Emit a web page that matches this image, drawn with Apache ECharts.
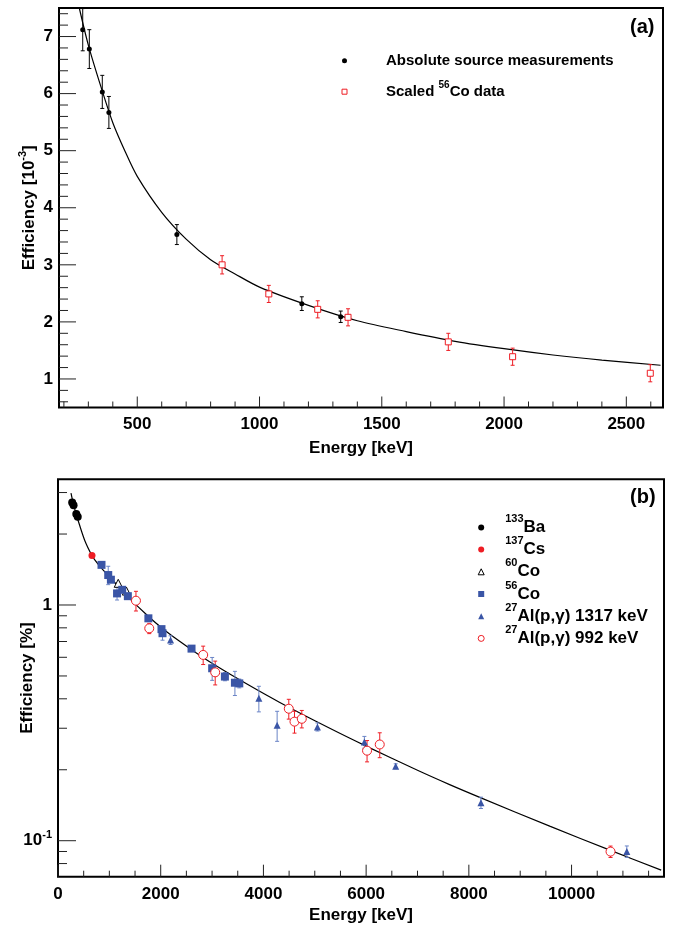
<!DOCTYPE html>
<html>
<head>
<meta charset="utf-8">
<title>Detector efficiency</title>
<script src="https://cdn.jsdelivr.net/npm/echarts@6/dist/echarts.min.js"></script>
<style>
  html, body { margin: 0; padding: 0; background: #fff; }
  #chart { width: 673px; height: 926px; }
</style>
</head>
<body>
<div id="chart"></div>
<script>
// ---- panel (a): efficiency [1e-3] vs energy [keV] ----
const absEnergy = [277, 304, 357, 384, 662, 1173, 1332];
const absEff    = [7.12, 6.78, 6.03, 5.67, 3.53, 2.32, 2.09];
const absErr    = [0.37, 0.34, 0.29, 0.28, 0.175, 0.12, 0.10];

const scaledEnergy = [847, 1038, 1238, 1362, 1772, 2035, 2598];
const scaledEff    = [3.00, 2.49, 2.22, 2.08, 1.65, 1.39, 1.10];
const scaledErr    = [0.16, 0.15, 0.15, 0.15, 0.15, 0.15, 0.15];

const fitAEnergy = [263, 300, 350, 400, 450, 500, 600, 700, 800, 900, 1000, 1200, 1400, 1600, 1800, 2000, 2200, 2400, 2640];
const fitAEff    = [7.50, 6.85, 6.14, 5.49, 4.99, 4.55, 3.92, 3.45, 3.09, 2.84, 2.61, 2.29, 2.02, 1.83, 1.66, 1.53, 1.42, 1.33, 1.24];

// ---- panel (b): efficiency [%] vs energy [keV] ----
const ba133Energy = [276, 303, 356, 384];
const ba133Eff    = [2.72, 2.65, 2.43, 2.37];

const cs137Energy = [662];
const cs137Eff    = [1.62];

const co60Energy = [1173, 1332];
const co60Eff    = [1.236, 1.146];

const co56Energy = [847, 978, 1030, 1150, 1250, 1360, 1760, 2015, 2035, 2600, 3002, 3250, 3445, 3530];
const co56Eff    = [1.48, 1.34, 1.28, 1.12, 1.16, 1.09, 0.878, 0.79, 0.759, 0.653, 0.539, 0.497, 0.468, 0.465];
const co56Err    = [0.02, 0.12, 0.03, 0.07, 0.02, 0.02, 0.015, 0.02, 0.05, 0.015, 0.06, 0.02, 0.055, 0.02];

const al1317Energy = [2192, 3911, 4267, 5052, 5966, 6576, 8236, 11076];
const al1317Eff    = [0.710, 0.402, 0.309, 0.304, 0.262, 0.207, 0.145, 0.090];
const al1317Err    = [0.03, 0.05, 0.045, 0.012, 0.015, 0.005, 0.008, 0.005];

const al992Energy = [1518, 1777, 2827, 3061, 4494, 4605, 4747, 6018, 6265, 10759];
const al992Eff    = [1.043, 0.796, 0.614, 0.518, 0.363, 0.320, 0.329, 0.241, 0.256, 0.0899];
const al992Err    = [0.10, 0.04, 0.055, 0.06, 0.035, 0.034, 0.028, 0.025, 0.031, 0.005];

const fitBEnergy = [253, 300, 350, 415, 525, 655, 720, 850, 1174, 1368, 1757, 2017, 2341, 2665, 3022, 3671, 4319, 5292, 6000, 7000, 7626, 8236, 9586, 10759, 11745];
const fitBEff    = [2.98, 2.68, 2.45, 2.20, 1.87, 1.63, 1.55, 1.43, 1.20, 1.08, 0.896, 0.801, 0.708, 0.632, 0.562, 0.463, 0.386, 0.300, 0.252, 0.199, 0.173, 0.152, 0.115, 0.091, 0.075];

// tick positions
const ticksAX = [500, 1000, 1500, 2000, 2500];
const ticksAY = [1, 2, 3, 4, 5, 6, 7];
const ticksBX = [0, 2000, 4000, 6000, 8000, 10000];
const ticksBY = [0.1, 1];

const FONT = '"Liberation Sans", Arial, Helvetica, sans-serif';
const RED = '#ee1d24';
const BLUE = '#3a55a6';
const BLUE_BAR = '#6a84c6';

const zip = (xs, ys) => xs.map((x, i) => [x, ys[i]]);

// ROOT style: ticks drawn inwards from the bottom and left frame lines
function tickSeries(gi, dir, major, minor, majorLen, minorLen, other) {
  const list = major.map(v => [v, majorLen]).concat(minor.map(v => [v, minorLen]));
  return {
    type: 'custom', xAxisIndex: gi, yAxisIndex: gi, silent: true, z: 6, clip: false,
    data: list.map(t => dir === 'x' ? [t[0], other] : [other, t[0]]),
    renderItem(params, api) {
      const cs = params.coordSys;
      const len = list[params.dataIndex][1];
      const p = api.coord([api.value(0), api.value(1)]);
      const bottom = cs.y + cs.height;
      const shape = dir === 'x'
        ? { x1: p[0], y1: bottom, x2: p[0], y2: bottom - len }
        : { x1: cs.x, y1: p[1], x2: cs.x + len, y2: p[1] };
      return { type: 'line', shape, style: { stroke: '#222', lineWidth: 1 } };
    }
  };
}

function errorBars(gi, xs, ys, es, color) {
  return {
    type: 'custom', xAxisIndex: gi, yAxisIndex: gi, silent: true, z: 3, clip: true,
    data: xs.map((x, i) => [x, ys[i] - es[i], ys[i] + es[i]]),
    encode: { x: 0, y: [1, 2] },
    renderItem(params, api) {
      const lo = api.coord([api.value(0), api.value(1)]);
      const hi = api.coord([api.value(0), api.value(2)]);
      const c = 2;
      const style = { stroke: color, lineWidth: 1 };
      return {
        type: 'group',
        children: [
          { type: 'line', shape: { x1: lo[0], y1: lo[1], x2: hi[0], y2: hi[1] }, style },
          { type: 'line', shape: { x1: lo[0] - c, y1: lo[1], x2: lo[0] + c, y2: lo[1] }, style },
          { type: 'line', shape: { x1: hi[0] - c, y1: hi[1], x2: hi[0] + c, y2: hi[1] }, style }
        ]
      };
    }
  };
}

function points(gi, name, xs, ys, symbol, size, fill, stroke) {
  return {
    type: 'scatter', name, xAxisIndex: gi, yAxisIndex: gi, z: 4,
    symbol, symbolSize: size, data: zip(xs, ys),
    itemStyle: { color: fill, borderColor: stroke || fill, borderWidth: stroke ? 1 : 0, opacity: 1 }
  };
}

// "133Ba" -> superscript mass number
function supText(name) {
  return name.replace(/(\d+)(?=[A-Z])/g, '{s|$1}');
}

// thin outline for open legend markers
const thin = name => ({ name, itemStyle: { borderWidth: 1 } });

const axisLabelBase = { color: '#000', fontFamily: FONT, fontWeight: 'bold', fontSize: 17 };
const nameBase = { color: '#000', fontFamily: FONT, fontWeight: 'bold', fontSize: 17 };

function pow10Label(v) {
  const e = Math.log10(v);
  if (Math.abs(e - Math.round(e)) > 1e-6) return '';
  const k = Math.round(e);
  if (k === 0) return '1';
  if (k === 1) return '10';
  return '10{s|' + k + '}';
}

const gridBase = { show: true, borderColor: '#000', borderWidth: 2, backgroundColor: 'transparent', containLabel: false, outerBoundsMode: 'none' };

const option = {
  animation: false,
  backgroundColor: '#fff',
  grid: [
    Object.assign({ left: 59, top: 8, width: 604, height: 399.5 }, gridBase),
    Object.assign({ left: 58, top: 479.3, width: 606, height: 397.4 }, gridBase)
  ],
  xAxis: [
    {
      gridIndex: 0, type: 'value', min: 180, max: 2650, splitNumber: 5,
      axisLine: { show: false }, axisTick: { show: false }, splitLine: { show: false },
      axisLabel: Object.assign({ margin: 8, formatter: v => (v % 500 === 0 ? String(v) : '') }, axisLabelBase),
      name: 'Energy [keV]', nameLocation: 'middle', nameGap: 32, nameMoveOverlap: false, nameTextStyle: nameBase
    },
    {
      gridIndex: 1, type: 'value', min: 0, max: 11800, interval: 2000,
      axisLine: { show: false }, axisTick: { show: false }, splitLine: { show: false },
      axisLabel: Object.assign({ margin: 9, formatter: v => (v % 2000 === 0 ? String(v) : '') }, axisLabelBase),
      name: 'Energy [keV]', nameLocation: 'middle', nameGap: 30, nameMoveOverlap: false, nameTextStyle: nameBase
    }
  ],
  yAxis: [
    {
      gridIndex: 0, type: 'value', min: 0.5, max: 7.5, splitNumber: 7,
      axisLine: { show: false }, axisTick: { show: false }, splitLine: { show: false },
      axisLabel: Object.assign({ margin: 6, formatter: v => (Number.isInteger(v) ? String(v) : '') }, axisLabelBase),
      name: 'Efficiency [10{s|-3}]', nameLocation: 'middle', nameRotate: 90, nameGap: 20, nameMoveOverlap: false,
      nameTextStyle: Object.assign({ lineHeight: 20, rich: { s: { fontSize: 11, lineHeight: 20, fontWeight: 'bold', fontFamily: FONT, color: '#000', padding: [0, 0, 12, 0] } } }, nameBase)
    },
    {
      gridIndex: 1, type: 'log', logBase: 10, min: 0.07036, max: 3.414,
      axisLine: { show: false }, axisTick: { show: false }, splitLine: { show: false },
      axisLabel: Object.assign({
        margin: 6, formatter: pow10Label, lineHeight: 20,
        rich: { s: { fontSize: 11, lineHeight: 20, fontWeight: 'bold', fontFamily: FONT, color: '#000', padding: [0, 0, 12, 0] } }
      }, axisLabelBase),
      name: 'Efficiency [%]', nameLocation: 'middle', nameRotate: 90, nameGap: 22, nameMoveOverlap: false, nameTextStyle: nameBase
    }
  ],
  legend: [
    {
      orient: 'vertical', left: 341.5, top: 50.7, padding: 0, itemWidth: 5, itemHeight: 5, itemGap: 10,
      selectedMode: false,
      data: ['Absolute source measurements', thin('Scaled 56Co data')],
      formatter: supText,
      textStyle: {
        color: '#000', fontFamily: FONT, fontWeight: 'bold', fontSize: 15, lineHeight: 20, padding: [0, 0, 0, 34],
        rich: { s: { fontSize: 10, lineHeight: 20, fontWeight: 'bold', fontFamily: FONT, color: '#000', padding: [0, 0, 12, 0] } }
      }
    },
    {
      orient: 'vertical', left: 477.7, top: 513.4, padding: 0, itemWidth: 6, itemHeight: 6, itemGap: -5.8,
      selectedMode: false,
      data: ['133Ba', '137Cs', thin('60Co'), '56Co', '27Al(p,\u03b3) 1317 keV', thin('27Al(p,\u03b3) 992 keV')],
      formatter: supText,
      textStyle: {
        color: '#000', fontFamily: FONT, fontWeight: 'bold', fontSize: 17, lineHeight: 22, padding: [0, 0, 0, 16],
        rich: { s: { fontSize: 11, lineHeight: 22, fontWeight: 'bold', fontFamily: FONT, color: '#000', padding: [0, 0, 17, 0] } }
      }
    }
  ],
  graphic: [
    { type: 'text', left: 630, top: 17, style: { text: '(a)', fill: '#000', font: 'bold 20px ' + FONT } },
    { type: 'text', left: 630, top: 487.5, style: { text: '(b)', fill: '#000', font: 'bold 20px ' + FONT } }
  ],
  series: [
    // panel (a)
    { type: 'line', name: 'fitA', xAxisIndex: 0, yAxisIndex: 0, data: zip(fitAEnergy, fitAEff), smooth: 0.3,
      symbol: 'none', lineStyle: { color: '#000', width: 1.2 }, z: 2, silent: true },
    errorBars(0, absEnergy, absEff, absErr, '#000'),
    errorBars(0, scaledEnergy, scaledEff, scaledErr, RED),
    points(0, 'Absolute source measurements', absEnergy, absEff, 'circle', 5, '#000'),
    points(0, 'Scaled 56Co data', scaledEnergy, scaledEff, 'rect', 6, '#fff', RED),
    tickSeries(0, 'x', ticksAX, [200,300,400,600,700,800,900,1100,1200,1300,1400,1600,1700,1800,1900,2100,2200,2300,2400,2600], 11, 6, 1),
    tickSeries(0, 'y', ticksAY, [0.6,0.8,1.2,1.4,1.6,1.8,2.2,2.4,2.6,2.8,3.2,3.4,3.6,3.8,4.2,4.4,4.6,4.8,5.2,5.4,5.6,5.8,6.2,6.4,6.6,6.8,7.2,7.4], 17, 9, 1000),

    // panel (b)
    { type: 'line', name: 'fitB', xAxisIndex: 1, yAxisIndex: 1, data: zip(fitBEnergy, fitBEff), smooth: 0.3,
      symbol: 'none', lineStyle: { color: '#000', width: 1.2 }, z: 2, silent: true },
    errorBars(1, co56Energy, co56Eff, co56Err, BLUE_BAR),
    errorBars(1, al1317Energy, al1317Eff, al1317Err, BLUE_BAR),
    errorBars(1, al992Energy, al992Eff, al992Err, RED),
    points(1, '133Ba', ba133Energy, ba133Eff, 'circle', 8, '#000'),
    points(1, '137Cs', cs137Energy, cs137Eff, 'circle', 7, RED),
    points(1, '60Co', co60Energy, co60Eff, 'triangle', 8, '#fff', '#000'),
    points(1, '56Co', co56Energy, co56Eff, 'rect', 8, BLUE),
    points(1, '27Al(p,\u03b3) 1317 keV', al1317Energy, al1317Eff, 'triangle', 7, BLUE),
    points(1, '27Al(p,\u03b3) 992 keV', al992Energy, al992Eff, 'circle', 9, '#fff', RED),
    tickSeries(1, 'x', ticksBX, [500,1000,1500,2500,3000,3500,4500,5000,5500,6500,7000,7500,8500,9000,9500,10500,11000,11500], 12, 6, 1),
    tickSeries(1, 'y', ticksBY, [0.08,0.09,0.2,0.3,0.4,0.5,0.6,0.7,0.8,0.9,2,3], 18, 9, 1000)
  ]
};

const chart = echarts.init(document.getElementById('chart'), null, { renderer: 'canvas' });
chart.setOption(option);
</script>
</body>
</html>
